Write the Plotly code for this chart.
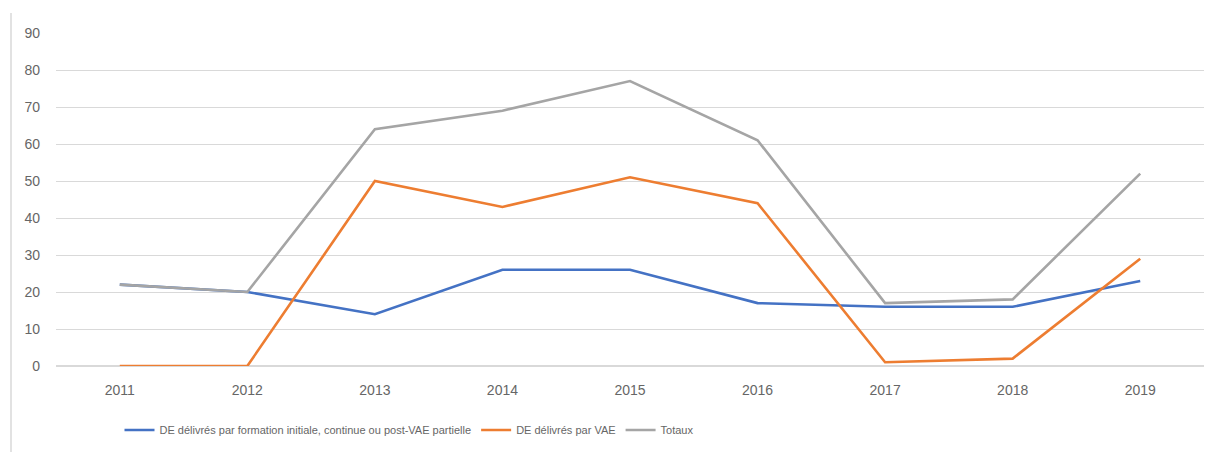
import plotly.graph_objects as go

years = ["2011", "2012", "2013", "2014", "2015", "2016", "2017", "2018", "2019"]
formation = [22, 20, 14, 26, 26, 17, 16, 16, 23]
vae = [0, 0, 50, 43, 51, 44, 1, 2, 29]
totaux = [22, 20, 64, 69, 77, 61, 17, 18, 52]

names = [
    "DE délivrés par formation initiale, continue ou post-VAE partielle",
    "DE délivrés par VAE",
    "Totaux",
]
colors = ["#4472C4", "#ED7D31", "#A5A5A5"]

fig = go.Figure()
for name, vals, col in zip(names, [formation, vae, totaux], colors):
    fig.add_trace(go.Scatter(x=years, y=vals, name=name, mode="lines",
                             line=dict(color=col, width=2.6)))

W, H = 1215, 444
ML, MR, MT, MB = 48, 19, 25, 86
PW, PH = W - ML - MR, H - MT - MB
PB = H - MB  # plot bottom in figure px

fig.update_layout(
    width=W, height=H,
    margin=dict(l=ML, r=MR, t=MT, b=MB, autoexpand=False),
    paper_bgcolor="white", plot_bgcolor="white",
    font=dict(family="Liberation Sans, Arial, sans-serif", size=14, color="#666666"),
    xaxis=dict(type="category", range=[-0.5, 8.5], showgrid=False,
               showline=False, zeroline=False, ticks="", ticklabelstandoff=14,
               tickfont=dict(size=14, color="#666666")),
    yaxis=dict(range=[0, 90], dtick=10, showgrid=True, gridcolor="#D9D9D9",
               gridwidth=1, zeroline=True, zerolinecolor="#D9D9D9",
               showline=False, ticks="", ticklabelstandoff=15,
               tickfont=dict(size=14, color="#666666")),
    legend=dict(orientation="h", x=(401 - ML) / PW, xanchor="center",
                y=(PB - 422) / PH, yanchor="middle", itemwidth=30,
                font=dict(family="Liberation Sans, Arial, sans-serif", size=11,
                          color="#666666")),
    showlegend=True,
)
fig.add_shape(type="line", xref="paper", yref="paper",
              x0=(3 - ML) / PW, x1=(3 - ML) / PW, y0=1 + (MT - 5) / PH, y1=-MB / PH,
              line=dict(color="#D9D9D9", width=1.5))
fig.write_html("out.html")
